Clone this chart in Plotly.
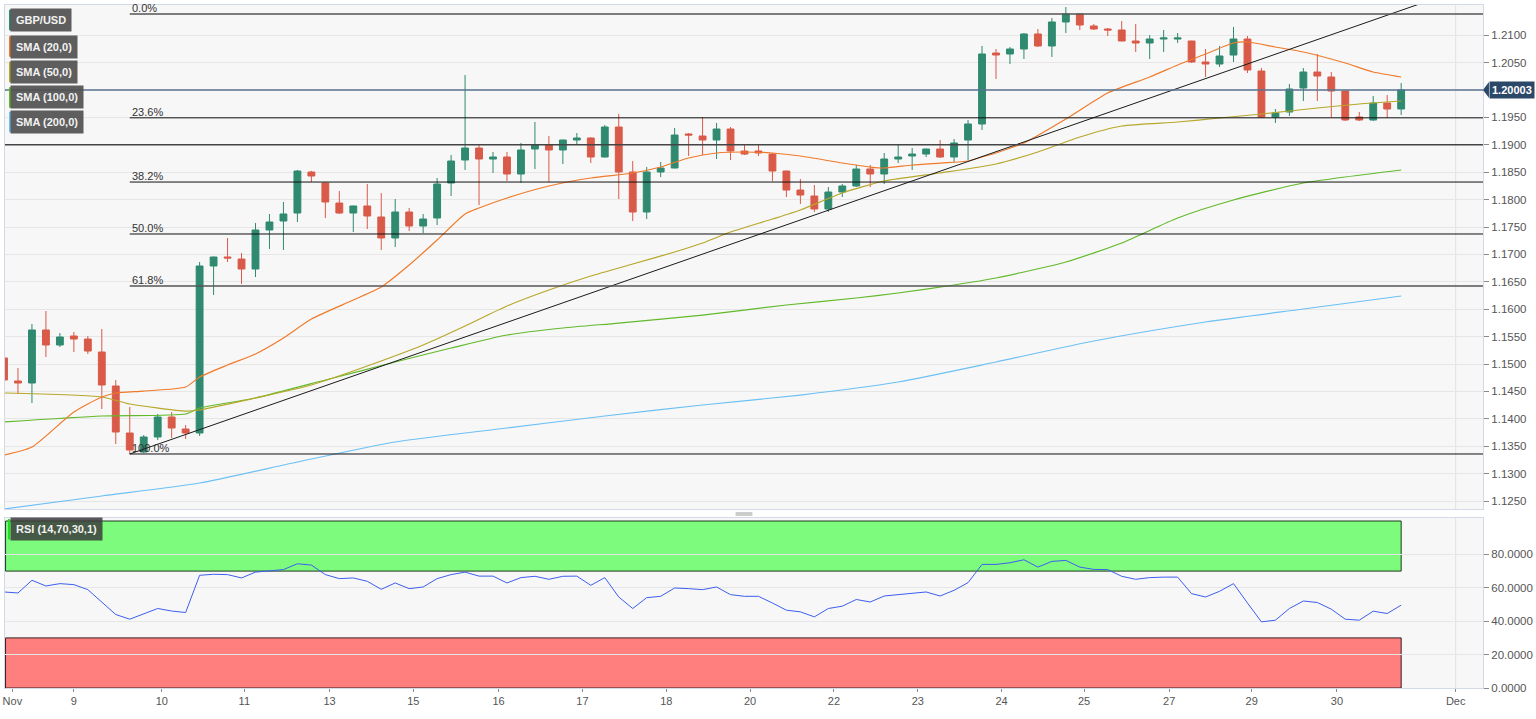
import plotly.graph_objects as go

# ---------------- data ----------------
candle_idx = list(range(101))
opens = [1.15110,1.14690,1.14653,1.15621,1.15347,1.15511,1.15456,1.15219,1.14599,1.13741,
         1.13394,1.13668,1.14033,1.13814,1.13741,1.16789,1.16953,1.16916,1.16734,1.17446,
         1.17610,1.17756,1.18504,1.18303,1.17938,1.17756,1.17884,1.17683,1.17300,1.17774,
         1.17519,1.17665,1.18303,1.18723,1.18942,1.18741,1.18778,1.18468,1.18924,1.18997,
         1.18906,1.19088,1.19125,1.18778,1.19325,1.18504,1.17774,1.18504,1.18577,1.19198,
         1.19161,1.19088,1.19289,1.18887,1.18887,1.18832,1.18522,1.18175,1.18066,1.17829,
         1.18139,1.18249,1.18559,1.18468,1.18741,1.18796,1.18832,1.18924,1.18778,1.19088,
         1.19380,1.20676,1.20658,1.20749,1.21023,1.20804,1.21242,1.21388,1.21169,1.21114,
         1.21096,1.20895,1.20858,1.20931,1.20931,1.20895,1.20512,1.20475,1.20639,1.20931,
         1.20347,1.19508,1.19599,1.20037,1.20329,1.20238,1.19982,1.19508,1.19453,1.19763,
         1.19654]
highs = [1.15164,1.14927,1.15730,1.15967,1.15566,1.15584,1.15511,1.15639,1.14708,1.14215,
         1.13704,1.14088,1.14124,1.13887,1.16862,1.16960,1.17300,1.17026,1.17573,1.17738,
         1.17957,1.18541,1.18525,1.18310,1.18157,1.17890,1.18285,1.18121,1.18011,1.17847,
         1.17738,1.18395,1.18814,1.20274,1.18997,1.18869,1.18869,1.19033,1.19417,1.19161,
         1.19095,1.19216,1.19135,1.19362,1.19563,1.18705,1.18595,1.18687,1.19307,1.19216,
         1.19508,1.19398,1.19325,1.18997,1.18997,1.18851,1.18530,1.18376,1.18267,1.18230,
         1.18285,1.18632,1.18632,1.18851,1.19015,1.18942,1.18930,1.19088,1.19106,1.19453,
         1.20804,1.20749,1.20785,1.21041,1.21114,1.21315,1.21515,1.21395,1.21205,1.21132,
         1.21260,1.21205,1.21004,1.21096,1.21041,1.20900,1.20749,1.20804,1.21150,1.20986,
         1.20402,1.19654,1.20110,1.20402,1.20658,1.20329,1.19990,1.19599,1.19891,1.19909,
         1.20128]
lows = [1.14599,1.14453,1.14288,1.15128,1.15310,1.15219,1.15183,1.14179,1.13540,1.13358,
        1.13376,1.13613,1.13650,1.13631,1.13686,1.16259,1.16862,1.16460,1.16588,1.17099,
        1.17081,1.17592,1.18322,1.17665,1.17738,1.17409,1.17464,1.17081,1.17135,1.17427,
        1.17391,1.17537,1.18066,1.18541,1.17902,1.18486,1.18340,1.18303,1.18559,1.18322,
        1.18650,1.19015,1.18668,1.18770,1.18011,1.17610,1.17646,1.18413,1.18570,1.18796,
        1.18814,1.18741,1.18723,1.18814,1.18796,1.18340,1.18048,1.17920,1.17774,1.17774,
        1.18048,1.18230,1.18230,1.18285,1.18668,1.18541,1.18778,1.18760,1.18687,1.18723,
        1.19271,1.20201,1.20475,1.20566,1.20785,1.20603,1.21041,1.21096,1.21096,1.20986,
        1.20890,1.20694,1.20566,1.20694,1.20858,1.20493,1.20238,1.20420,1.20512,1.20311,
        1.19490,1.19398,1.19526,1.19800,1.19800,1.19508,1.19435,1.19435,1.19435,1.19490,
        1.19544]
closes = [1.14708,1.14653,1.15621,1.15347,1.15493,1.15456,1.15237,1.14617,1.13759,1.13431,
          1.13668,1.14033,1.13832,1.13741,1.16789,1.16953,1.16935,1.16734,1.17446,1.17592,
          1.17738,1.18522,1.18431,1.17957,1.17756,1.17884,1.17701,1.17300,1.17774,1.17519,
          1.17646,1.18285,1.18705,1.18942,1.18741,1.18778,1.18468,1.18906,1.18997,1.18906,
          1.19088,1.19125,1.18778,1.19325,1.18504,1.17774,1.18504,1.18577,1.19179,1.19179,
          1.19088,1.19289,1.18887,1.18832,1.18851,1.18522,1.18175,1.18084,1.17829,1.18139,
          1.18249,1.18559,1.18468,1.18741,1.18778,1.18832,1.18924,1.18778,1.19033,1.19380,
          1.20658,1.20639,1.20749,1.21023,1.20804,1.21242,1.21388,1.21187,1.21114,1.21096,
          1.20895,1.20858,1.20931,1.20950,1.20950,1.20512,1.20475,1.20621,1.20931,1.20366,
          1.19508,1.19581,1.20019,1.20329,1.20256,1.19982,1.19453,1.19453,1.19763,1.19654,
          1.20003]

sma20_idx = [0,2,5,7,8,10,13,14,16,18,20,22,25,27,29,31,33,34,36,39,42,45,47,49,51,53,55,57,60,62,
             63,65,67,69,70,71,73,76,79,82,84,86,88,89,91,93,96,98,100]
sma20_val = [1.13339,1.13485,1.14124,1.14398,1.14471,1.14507,1.14580,1.14763,1.14982,1.15183,
             1.15475,1.15821,1.16168,1.16405,1.16807,1.17263,1.17738,1.17847,1.18030,1.18249,
             1.18395,1.18486,1.18595,1.18760,1.18851,1.18869,1.18851,1.18796,1.18668,1.18595,
             1.18577,1.18632,1.18668,1.18705,1.18778,1.18851,1.19033,1.19471,1.19946,1.20238,
             1.20457,1.20658,1.20858,1.20877,1.20785,1.20694,1.20493,1.20329,1.20238]

sma50_idx = [0,7,9,13,14,18,22,26,30,33,36,39,42,45,48,50,52,55,57,60,63,67,71,74,77,80,84,87,90,94,97,100]
sma50_val = [1.14471,1.14398,1.14270,1.14142,1.14161,1.14380,1.14617,1.14964,1.15347,1.15694,
             1.16059,1.16351,1.16606,1.16825,1.17044,1.17208,1.17409,1.17646,1.17811,1.18121,
             1.18340,1.18486,1.18650,1.18869,1.19143,1.19344,1.19417,1.19490,1.19563,1.19672,
             1.19745,1.19800]

sma100_idx = [0,7,13,14,18,23,28,32,36,40,44,50,56,61,64,68,71,76,80,84,88,93,100]
sma100_val = [1.13942,1.14051,1.14088,1.14197,1.14380,1.14708,1.15037,1.15292,1.15529,1.15657,
              1.15748,1.15894,1.16077,1.16205,1.16296,1.16442,1.16570,1.16862,1.17208,1.17665,
              1.17993,1.18303,1.18541]

sma200_idx = [0,7,14,21,28,36,43,50,57,64,71,78,86,93,100]
sma200_val = [1.12354,1.12591,1.12828,1.13212,1.13577,1.13832,1.14051,1.14252,1.14434,1.14672,
              1.15037,1.15420,1.15767,1.16004,1.16241]

trend_idx = [9, 101.5]
trend_val = [1.13358, 1.21588]

fib_labels = ["0.0%", "23.6%", "38.2%", "50.0%", "61.8%", "100.0%"]
fib_levels = [1.21388, 1.19493, 1.18321, 1.17373, 1.16425, 1.13358]
fib_start_idx = 9
round_level = 1.1900
last_price = 1.20003

rsi_val = [57.5,56.9,64.5,61.1,62.5,61.9,58.9,51.5,44.0,41.2,
           44.2,47.6,46.1,45.2,67.5,68.1,67.9,65.9,69.4,70.0,
           70.9,74.4,73.6,67.9,65.5,65.9,63.9,59.1,62.9,59.5,
           60.5,65.5,67.9,69.4,67.0,67.0,62.9,66.1,66.9,65.1,
           66.9,67.0,61.5,66.1,54.5,47.6,54.1,54.9,59.9,59.5,
           58.9,60.5,55.9,54.9,54.9,50.9,46.6,45.6,42.6,47.6,
           49.0,53.0,51.5,55.1,55.9,56.5,57.5,55.1,58.5,63.1,
           74.0,74.0,75.0,76.8,72.4,75.8,76.4,72.4,71.0,70.9,
           66.9,65.1,66.1,66.4,66.4,56.5,54.5,57.9,62.5,50.9,
           39.6,40.6,47.6,52.1,51.2,47.2,41.2,40.6,46.0,44.6,
           49.6]
rsi_upper, rsi_lower = 70, 30

xtick_pos = [0.6,5.0,11.3,17.2,23.3,29.3,35.4,41.4,47.4,53.4,59.4,65.4,71.4,77.3,83.4,89.3,95.4,103.9]
xtick_txt = ["Nov","9","10","11","13","15","16","17","18","20","22","23","24","25","27","29","30","Dec"]

# price axis ticks (1.2000 sits under the last-price tag, so it is not labelled)
price_ticks = [1.1250, 1.1300, 1.1350, 1.1400, 1.1450, 1.1500, 1.1550, 1.1600, 1.1650,
               1.1700, 1.1750, 1.1800, 1.1850, 1.1900, 1.1950, 1.2050, 1.2100]
price_grid_hidden = [1.2000]

# ---------------- style ----------------
UP = "#2f8a70"
DN = "#d95a48"
C20, C50, C100, C200 = "#f07a2a", "#b7a72a", "#62b92a", "#6cc0f5"
FONT = "Liberation Sans, Arial, sans-serif"
X_RANGE = [0.0714, 105.857]
Y_RANGE = [1.12354, 1.21552]

fig = go.Figure()

fig.add_trace(go.Candlestick(
    x=candle_idx, open=opens, high=highs, low=lows, close=closes,
    increasing=dict(line=dict(color=UP, width=1), fillcolor=UP),
    decreasing=dict(line=dict(color=DN, width=1), fillcolor=DN),
    xaxis="x", yaxis="y", showlegend=False, name="GBP/USD"))

for xs, ys, col in [(sma200_idx, sma200_val, C200), (sma100_idx, sma100_val, C100),
                    (sma50_idx, sma50_val, C50), (sma20_idx, sma20_val, C20)]:
    fig.add_trace(go.Scatter(x=xs, y=ys, mode="lines",
                             line=dict(color=col, width=1.2, shape="spline", smoothing=0.6),
                             xaxis="x", yaxis="y", showlegend=False, hoverinfo="skip"))

fig.add_trace(go.Scatter(x=trend_idx, y=trend_val, mode="lines", line=dict(color="#1a1a1a", width=1),
                         xaxis="x", yaxis="y", showlegend=False, hoverinfo="skip"))

fig.add_trace(go.Scatter(x=candle_idx, y=rsi_val, mode="lines", line=dict(color="#3d5ef0", width=1),
                         xaxis="x2", yaxis="y2", showlegend=False, hoverinfo="skip"))

shapes = []
# vertical grid line at the month boundary
for xr, yr in (("x", "y"), ("x2", "y2")):
    shapes.append(dict(type="line", xref=xr, yref=f"{yr} domain", x0=xtick_pos[-1], x1=xtick_pos[-1],
                       y0=0, y1=1, line=dict(color="#e2e2e2", width=1), layer="below"))
for g in price_grid_hidden:
    shapes.append(dict(type="line", xref="paper", yref="y", x0=0, x1=1, y0=g, y1=g,
                       line=dict(color="#e6e6e6", width=1), layer="below"))
# fib lines
for lvl, lab in zip(fib_levels, fib_labels):
    grey = lab in ("0.0%", "61.8%")
    shapes.append(dict(type="line", xref="x", yref="y", x0=fib_start_idx, x1=X_RANGE[1], y0=lvl, y1=lvl,
                       line=dict(color="#555555" if grey else "#111111", width=1.6 if grey else 1)))
shapes.append(dict(type="line", xref="paper", yref="y", x0=0, x1=1, y0=round_level, y1=round_level,
                   line=dict(color="#444444", width=1.5)))
shapes.append(dict(type="line", xref="paper", yref="y", x0=0, x1=1, y0=last_price, y1=last_price,
                   line=dict(color="#5a7391", width=1.5)))
# RSI bands
band_x0 = X_RANGE[0] + 0.04
shapes.append(dict(type="rect", xref="x2", yref="y2", x0=band_x0, x1=candle_idx[-1], y0=rsi_upper, y1=100,
                   fillcolor="#7dfb7d", line=dict(color="#1e3a1e", width=1), layer="below"))
shapes.append(dict(type="rect", xref="x2", yref="y2", x0=band_x0, x1=candle_idx[-1], y0=0, y1=rsi_lower,
                   fillcolor="#ff7f7f", line=dict(color="#3a1e1e", width=1), layer="below"))
# price tag arrow
half = 0.00145
shapes.append(dict(type="path", xref="paper", yref="y",
                   path=f"M 1.0,{last_price} L 1.0040,{last_price + half} L 1.0040,{last_price - half} Z",
                   fillcolor="#2c4869", line=dict(width=0)))
# panel separator handle
for yy in (0.2562, 0.2533):
    shapes.append(dict(type="line", xref="paper", yref="paper", x0=0.4943, x1=0.5057, y0=yy, y1=yy,
                       line=dict(color="#9a9a9a", width=1)))

annotations = []
for lvl, lab in zip(fib_levels, fib_labels):
    annotations.append(dict(x=fib_start_idx, y=lvl, xref="x", yref="y", text=lab, showarrow=False,
                            xanchor="left", yanchor="bottom", yshift=-2,
                            font=dict(family=FONT, size=11, color="#333333")))

legend_items = [("GBP/USD", UP), ("SMA (20,0)", C20), ("SMA (50,0)", C50),
                ("SMA (100,0)", C100), ("SMA (200,0)", C200)]
legend_y = [0.9780, 0.9392, 0.9019, 0.8646, 0.8287]
for (txt, col), yy in zip(legend_items, legend_y):
    annotations.append(dict(x=0.0035, y=yy, xref="paper", yref="paper", text=f"<b>{txt}</b>", showarrow=False,
                            xanchor="left", yanchor="middle", bgcolor="rgba(80,80,80,0.92)", borderpad=5,
                            font=dict(family=FONT, size=11, color="#f2f2f2")))
    shapes.append(dict(type="rect", xref="paper", yref="paper", x0=0.0027, x1=0.0041,
                       y0=yy - 0.0150, y1=yy + 0.0150, fillcolor=col, line=dict(width=0), layer="above"))

annotations.append(dict(x=0.0035, y=0.2325, xref="paper", yref="paper", text="<b>RSI (14,70,30,1)</b>",
                        showarrow=False, xanchor="left", yanchor="middle", bgcolor="rgba(60,60,60,0.85)",
                        borderpad=5, font=dict(family=FONT, size=11, color="#f2f2f2")))
shapes.append(dict(type="rect", xref="paper", yref="paper", x0=0.0020, x1=0.0034,
                   y0=0.2325 - 0.0150, y1=0.2325 + 0.0150, fillcolor="#22dd22", line=dict(width=0), layer="above"))

annotations.append(dict(x=1.0040, y=last_price, xref="paper", yref="y", text=f"<b>{last_price:.5f}</b>",
                        showarrow=False, xanchor="left", yanchor="middle", bgcolor="#2c4869", borderpad=2,
                        font=dict(family=FONT, size=11, color="white")))

axis_common = dict(showline=True, mirror=True, linecolor="#d3d9e6", linewidth=1,
                   gridcolor="#e6e6e6", gridwidth=1, zeroline=False)

fig.update_layout(
    width=1536, height=719,
    margin=dict(l=3, r=52, t=5, b=31),
    paper_bgcolor="white", plot_bgcolor="#f7f7f7",
    font=dict(family=FONT, size=11, color="#555555"),
    showlegend=False,
    xaxis=dict(domain=[0, 1], anchor="y", range=X_RANGE, tickvals=xtick_pos, ticktext=xtick_txt,
               showticklabels=False, ticks="", showgrid=False, rangeslider=dict(visible=False), **axis_common),
    yaxis=dict(domain=[0.26208, 1], anchor="x", side="right", range=Y_RANGE, tickvals=price_ticks,
               tickformat=".4f", ticks="outside", ticklen=5, tickcolor="#888888",
               tickfont=dict(family=FONT, size=11.5, color="#555555"), **axis_common),
    xaxis2=dict(domain=[0, 1], anchor="y2", range=X_RANGE, tickvals=xtick_pos, ticktext=xtick_txt,
                ticks="outside", ticklen=3, tickcolor="#888888", showgrid=False,
                tickfont=dict(family=FONT, size=11, color="#555555"), **axis_common),
    yaxis2=dict(domain=[0, 0.24890], anchor="x2", side="right", range=[0, 101.8],
                tickvals=[0, 20, 40, 60, 80], tickformat=".4f", ticks="outside", ticklen=5, tickcolor="#888888",
                tickfont=dict(family=FONT, size=11.5, color="#555555"), **axis_common),
    shapes=shapes, annotations=annotations,
)

fig.write_html("out.html", config={"displayModeBar": False},
               post_script="document.body.style.margin='0px';document.body.style.overflow='hidden';")
